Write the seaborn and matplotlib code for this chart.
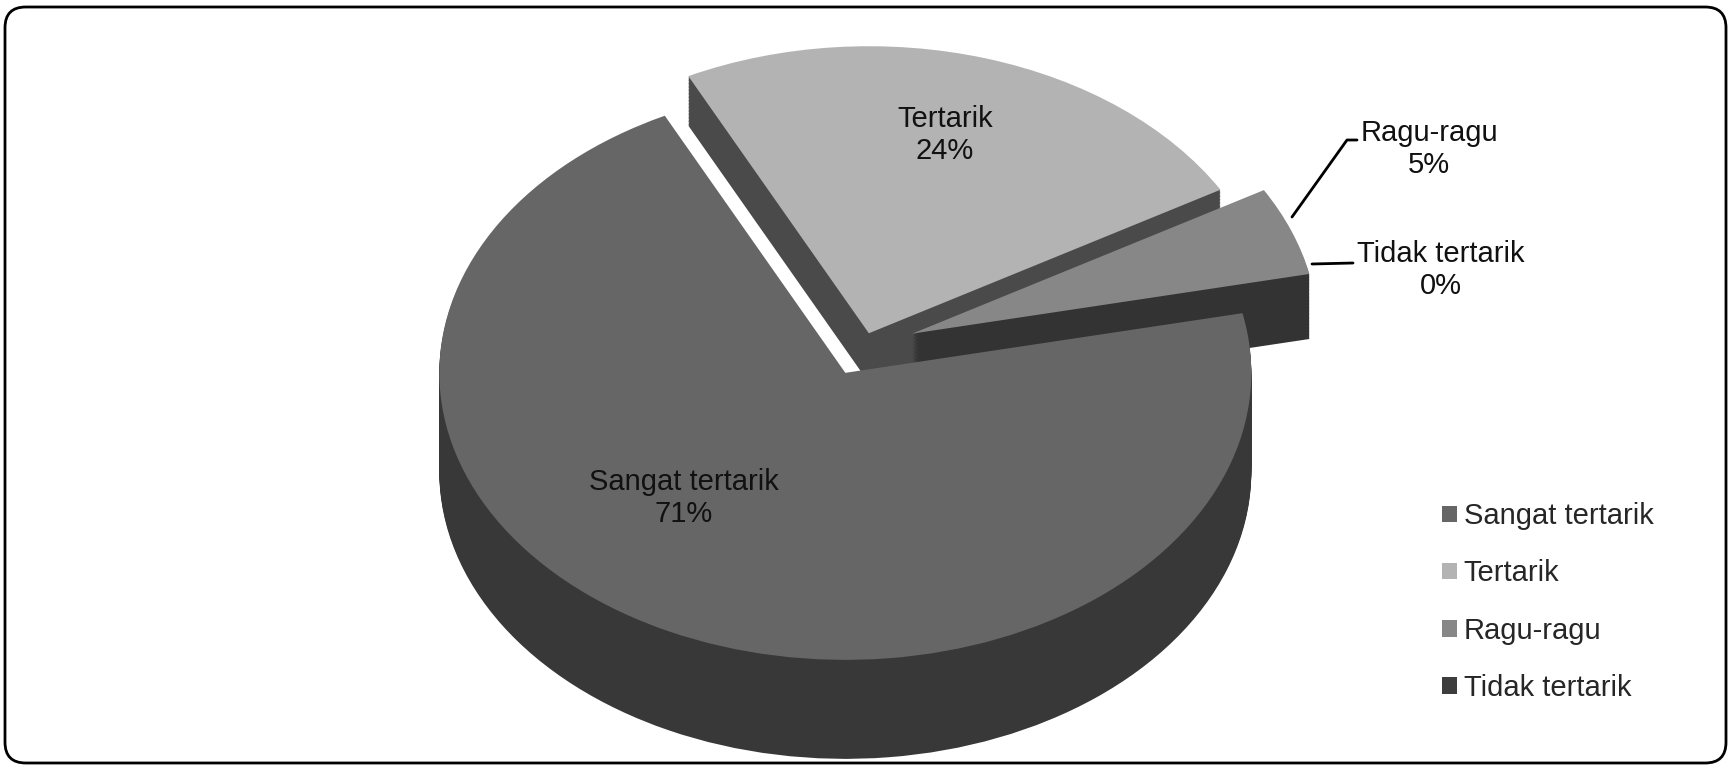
import matplotlib
matplotlib.use("Agg")
import matplotlib.pyplot as plt
import seaborn as sns
from matplotlib.patches import FancyBboxPatch
from matplotlib.lines import Line2D

# ---- data ----
categories = ["Sangat tertarik", "Tertarik", "Ragu-ragu", "Tidak tertarik"]
values = [71, 24, 5, 0]
pct_labels = ["71%", "24%", "5%", "0%"]

# ---- style ----
top_colors = ["#666666", "#b3b3b3", "#878787", "#3d3d3d"]
side_colors = ["#383838", "#4a4a4a", "#333333", "#2e2e2e"]
explode_frac = [0.10, 0.05, 0.13, 0.13]
thick_px = [100, 50, 66, 66]   # apparent depth of each slice (perspective)

sns.set_theme(style="white")
plt.rcParams['font.family'] = ['Liberation Sans', 'DejaVu Sans']

W, H, DPI = 1729, 765, 100
fig = plt.figure(figsize=(W / DPI, H / DPI), dpi=DPI)
fig.patch.set_facecolor("white")
ax = fig.add_axes([0, 0, 1, 1])

SQ = 0.707  # vertical squash of pie top surface
def px(x, y):
    """pixel (top-down) -> data coords"""
    return x, (H - y) / SQ

cx, cy = px(863, 347)
R = 406
START = 12
explode = [e * R for e in explode_frac]
thick = [t / SQ for t in thick_px]
step = 2.0
n = int(max(thick) / step)

for k in range(n, 0, -1):
    d = k * step
    cols = [c if d <= t else "none" for c, t in zip(side_colors, thick)]
    ax.pie(values, center=(cx, cy - d), radius=R, colors=cols,
           explode=explode, startangle=START, counterclock=False,
           wedgeprops=dict(linewidth=0))

wedges, _ = ax.pie(values, center=(cx, cy), radius=R, colors=top_colors,
                   explode=explode, startangle=START, counterclock=False,
                   wedgeprops=dict(linewidth=0))

ax.set_aspect("auto")
ax.set_xlim(0, W)
ax.set_ylim(0, H / SQ)
ax.axis("off")

fs = 21
label_pos = [(684, 498), (945, 135), (1429, 149), (1441, 270)]
for cat, pct, (lx, ly) in zip(categories, pct_labels, label_pos):
    x, y = px(lx, ly)
    ax.text(x, y, f"{cat}\n{pct}", ha="center", va="center", fontsize=fs,
            color="#111111", linespacing=1.2)

# leader lines
for pts in ([(1292, 217), (1347, 140), (1357, 140)], [(1312, 264), (1353, 263)]):
    xs = [px(a, b)[0] for a, b in pts]
    ys = [px(a, b)[1] for a, b in pts]
    ax.add_line(Line2D(xs, ys, color="black", lw=2))

leg = ax.legend(wedges, categories, loc="center left",
                bbox_to_anchor=(1442 / W, 1 - 602 / H), bbox_transform=fig.transFigure,
                frameon=False, fontsize=fs, handlelength=0.5, handleheight=0.5,
                handletextpad=0.25, labelspacing=1.0, borderpad=0, borderaxespad=0)

# rounded outer border
border = FancyBboxPatch((5 / W, 2 / H), 1721 / W, 756 / H,
                        boxstyle="round,pad=0,rounding_size=0.012",
                        transform=fig.transFigure, fill=False, edgecolor="black",
                        linewidth=2, mutation_aspect=W / H)
fig.patches.append(border)

fig.savefig("out.png", dpi=DPI, facecolor="white")
